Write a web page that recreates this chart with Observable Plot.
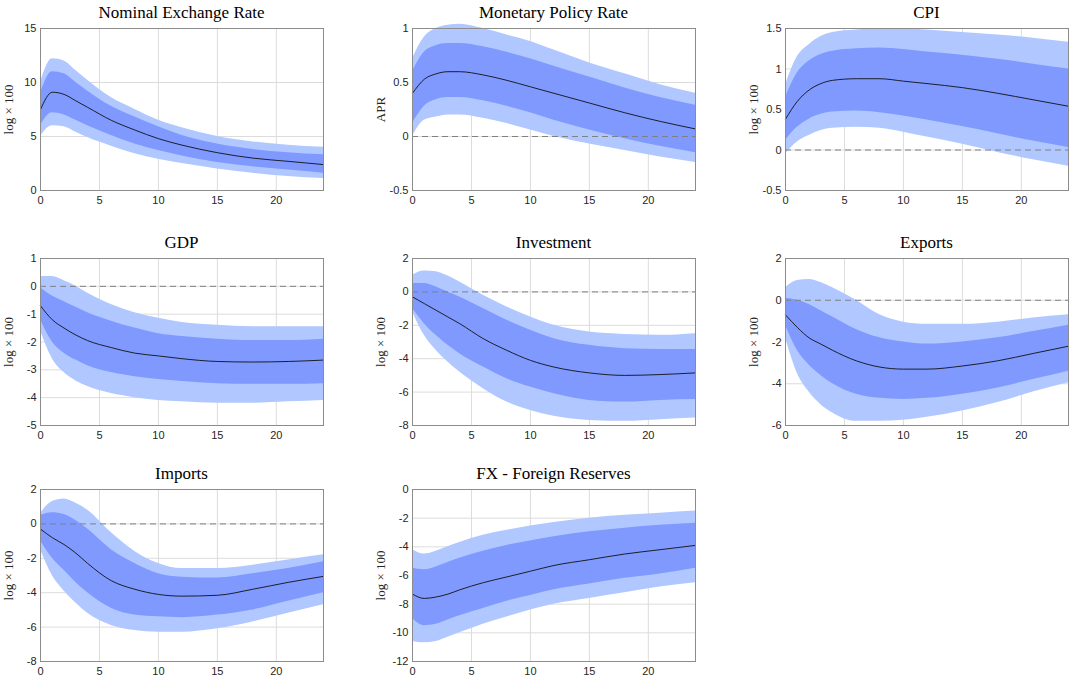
<!DOCTYPE html>
<html><head><meta charset="utf-8">
<script src="https://cdn.jsdelivr.net/npm/d3@7"></script>
<script src="https://cdn.jsdelivr.net/npm/@observablehq/plot@0.6"></script>
<style>
body{margin:0;background:#fff;}
#wrap{position:relative;width:1069px;height:677px;}
.ttl{position:absolute;font-family:"Liberation Serif","DejaVu Serif",serif;font-size:17px;text-align:center;width:283px;}
svg{position:absolute;}
</style></head>
<body><div id="wrap"></div>
<script>
const horizon = [0,1,2,3,4,6,8,10,12,15,18,21,24];

const titles = ["Nominal Exchange Rate","Monetary Policy Rate","CPI","GDP","Investment","Exports","Imports","FX - Foreign Reserves"];
const yLabels = ["log × 100","APR","log × 100","log × 100","log × 100","log × 100","log × 100","log × 100"];
const yTicks = [[0,5,10,15],[-0.5,0,0.5,1],[-0.5,0,0.5,1,1.5],[-5,-4,-3,-2,-1,0,1],[-8,-6,-4,-2,0,2],[-6,-4,-2,0,2],[-8,-6,-4,-2,0,2],[-12,-10,-8,-6,-4,-2,0]];
const zeroLine = [false,true,true,true,true,true,true,false];

const median = [
  [7.5,9.1,8.9,8.3,7.7,6.5,5.6,4.8,4.2,3.5,3.0,2.7,2.4],
  [0.4,0.53,0.58,0.6,0.6,0.57,0.52,0.46,0.40,0.31,0.22,0.14,0.07],
  [0.38,0.6,0.74,0.82,0.86,0.88,0.88,0.85,0.82,0.77,0.70,0.62,0.54],
  [-0.7,-1.2,-1.5,-1.75,-1.95,-2.2,-2.4,-2.5,-2.6,-2.7,-2.72,-2.7,-2.65],
  [-0.3,-0.7,-1.1,-1.5,-1.9,-2.8,-3.5,-4.1,-4.5,-4.85,-5.0,-4.95,-4.85],
  [-0.7,-1.3,-1.8,-2.1,-2.4,-2.9,-3.2,-3.3,-3.3,-3.15,-2.9,-2.55,-2.2],
  [-0.3,-0.8,-1.2,-1.7,-2.3,-3.3,-3.8,-4.1,-4.2,-4.15,-3.8,-3.4,-3.05],
  [-7.3,-7.6,-7.5,-7.3,-7.0,-6.5,-6.1,-5.7,-5.3,-4.9,-4.5,-4.2,-3.9]
];
const innerHi = [
  [9,11,10.8,10.0,9.2,7.8,6.8,5.9,5.1,4.3,3.8,3.5,3.3],
  [0.6,0.78,0.84,0.86,0.86,0.83,0.78,0.72,0.65,0.55,0.45,0.36,0.29],
  [0.65,0.95,1.1,1.18,1.22,1.25,1.26,1.24,1.21,1.17,1.12,1.06,1.0],
  [-0.05,-0.35,-0.55,-0.75,-0.95,-1.25,-1.5,-1.7,-1.8,-1.9,-1.95,-1.95,-1.9],
  [0.5,0.5,0.3,0.0,-0.3,-1.0,-1.7,-2.3,-2.8,-3.2,-3.4,-3.45,-3.45],
  [0.1,0.0,-0.2,-0.5,-0.8,-1.4,-1.8,-2.0,-2.1,-2.0,-1.8,-1.5,-1.2],
  [0.5,0.65,0.55,0.2,-0.3,-1.5,-2.3,-2.9,-3.1,-3.15,-2.9,-2.6,-2.2],
  [-5.5,-5.6,-5.4,-5.1,-4.8,-4.3,-3.9,-3.6,-3.3,-2.95,-2.7,-2.5,-2.35]
];
const innerLo = [
  [6,7.2,7.0,6.5,6.0,5.1,4.3,3.7,3.2,2.6,2.2,1.9,1.6],
  [0.12,0.28,0.34,0.36,0.36,0.33,0.28,0.22,0.15,0.06,-0.02,-0.09,-0.15],
  [0.12,0.28,0.38,0.44,0.47,0.48,0.46,0.42,0.37,0.29,0.2,0.11,0.03],
  [-1.2,-2.0,-2.4,-2.65,-2.85,-3.1,-3.25,-3.35,-3.42,-3.5,-3.52,-3.52,-3.5],
  [-1.0,-1.9,-2.6,-3.2,-3.7,-4.5,-5.2,-5.7,-6.1,-6.5,-6.6,-6.5,-6.45],
  [-1.2,-2.4,-3.1,-3.6,-4.0,-4.5,-4.7,-4.75,-4.7,-4.5,-4.2,-3.8,-3.4],
  [-1.0,-2.0,-2.7,-3.4,-4.0,-4.9,-5.3,-5.4,-5.45,-5.3,-5.0,-4.5,-4.0],
  [-9.0,-9.5,-9.4,-9.1,-8.8,-8.3,-7.8,-7.4,-7.0,-6.6,-6.2,-5.9,-5.5]
];
const outerHi = [
  [10,12.2,12.0,11.1,10.2,8.6,7.5,6.5,5.8,5.0,4.5,4.2,4.0],
  [0.72,0.92,1.0,1.03,1.04,1.0,0.94,0.88,0.8,0.68,0.58,0.48,0.4],
  [0.8,1.15,1.3,1.4,1.45,1.48,1.5,1.5,1.48,1.45,1.42,1.38,1.33],
  [0.35,0.35,0.2,0.0,-0.25,-0.65,-0.95,-1.15,-1.3,-1.4,-1.45,-1.45,-1.45],
  [1.0,1.25,1.2,0.95,0.6,-0.2,-0.9,-1.5,-2.0,-2.4,-2.55,-2.6,-2.5],
  [0.6,0.95,1.0,0.85,0.6,0.0,-0.7,-1.05,-1.15,-1.15,-1.05,-0.85,-0.7],
  [0.6,1.3,1.45,1.2,0.8,-0.5,-1.6,-2.3,-2.6,-2.6,-2.4,-2.1,-1.8],
  [-4.2,-4.5,-4.3,-4.0,-3.7,-3.2,-2.85,-2.55,-2.3,-2.0,-1.8,-1.65,-1.5]
];
const outerLo = [
  [5,6.0,5.9,5.4,4.9,4.1,3.4,2.9,2.5,2.0,1.6,1.3,1.1],
  [0.0,0.15,0.18,0.2,0.2,0.17,0.12,0.06,0.0,-0.07,-0.13,-0.19,-0.24],
  [-0.05,0.1,0.18,0.24,0.27,0.28,0.27,0.22,0.16,0.07,-0.03,-0.12,-0.2],
  [-1.6,-2.6,-3.1,-3.4,-3.6,-3.85,-4.0,-4.1,-4.15,-4.2,-4.2,-4.15,-4.1],
  [-1.2,-2.6,-3.5,-4.2,-4.8,-5.8,-6.6,-7.1,-7.45,-7.7,-7.75,-7.65,-7.55],
  [-1.8,-3.5,-4.4,-5.0,-5.4,-5.8,-5.8,-5.75,-5.6,-5.3,-4.9,-4.4,-3.95],
  [-1.5,-3.0,-3.9,-4.6,-5.2,-5.9,-6.2,-6.3,-6.3,-6.1,-5.7,-5.2,-4.7],
  [-10.6,-10.7,-10.6,-10.3,-10.0,-9.4,-8.9,-8.4,-8.0,-7.6,-7.2,-6.8,-6.5]
];

const colLeft = [40, 412, 785];
const rowTop = [28, 258, 489];
const rowH = [162, 167, 172];
const wrap = document.getElementById("wrap");

titles.forEach((title, i) => {
  const r = Math.floor(i / 3), c = i % 3;
  const data = horizon.map((t, k) => ({t, m: median[i][k], il: innerLo[i][k], ih: innerHi[i][k], ol: outerLo[i][k], oh: outerHi[i][k]}));
  const ticks = yTicks[i];
  const chart = Plot.plot({
    width: 283 + 46, height: rowH[r] + 32,
    marginLeft: 40, marginRight: 6, marginTop: 8, marginBottom: 24,
    style: {fontFamily: "Liberation Sans, Arial, sans-serif", fontSize: "11px", color: "#262626", background: "transparent"},
    x: {domain: [0, 24], ticks: [0,5,10,15,20], tickSize: 0, label: null, tickPadding: 6},
    y: {domain: [ticks[0], ticks[ticks.length-1]], ticks, tickSize: 0, tickPadding: 4, tickFormat: d => String(d),
        label: yLabels[i], labelAnchor: "center", labelArrow: "none", labelOffset: 37},
    marks: [
      Plot.gridX([0,5,10,15,20], {stroke: "#dcdcdc", strokeOpacity: 1}),
      Plot.gridY(ticks, {stroke: "#dcdcdc", strokeOpacity: 1}),
      Plot.areaY(data, {x: "t", y1: "ol", y2: "oh", fill: "#b0c8ff", curve: "monotone-x"}),
      Plot.areaY(data, {x: "t", y1: "il", y2: "ih", fill: "#7f99ff", curve: "monotone-x"}),
      zeroLine[i] ? Plot.ruleY([0], {stroke: "#808080", strokeDasharray: "6,4", strokeWidth: 1}) : null,
      Plot.lineY(data, {x: "t", y: "m", stroke: "#111", strokeWidth: 0.9, curve: "monotone-x"}),
      Plot.frame({stroke: "#8c8c8c"})
    ]
  });
  chart.style.left = (colLeft[c] - 40) + "px";
  chart.style.top = (rowTop[r] - 8) + "px";
  chart.querySelectorAll("g[aria-label='y-axis label'] text").forEach(t => { t.style.fontFamily = "Liberation Serif, serif"; t.style.fontSize = "13px"; });
  wrap.appendChild(chart);
  const tt = document.createElement("div");
  tt.className = "ttl"; tt.textContent = title;
  tt.style.left = colLeft[c] + "px"; tt.style.top = (rowTop[r] - 25) + "px";
  wrap.appendChild(tt);
});
</script></body></html>
